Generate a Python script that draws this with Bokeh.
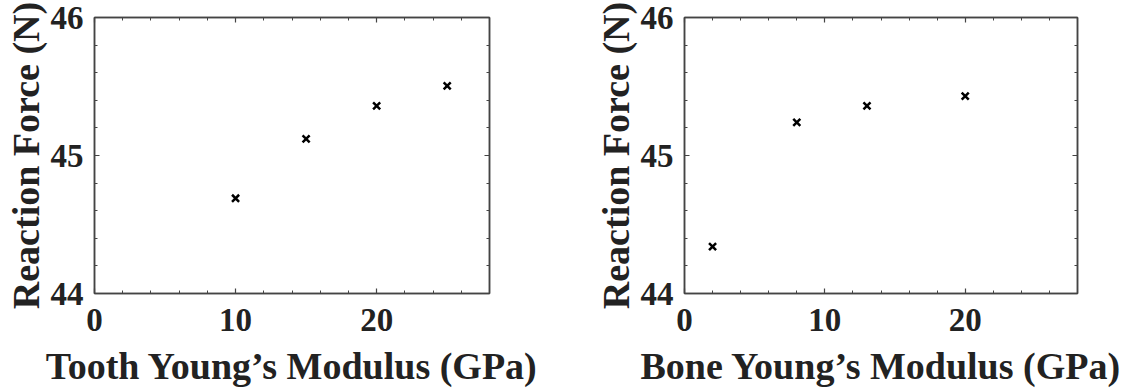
from bokeh.plotting import figure
from bokeh.layouts import row
from bokeh.models import FixedTicker, LinearAxis, Range1d, CustomJSTickFormatter
from bokeh.embed import file_html
from bokeh.resources import INLINE

# Data
tooth_modulus = [10, 15, 20, 25]
tooth_force = [44.69, 45.12, 45.36, 45.505]
bone_modulus = [2, 8, 13, 20]
bone_force = [44.34, 45.24, 45.36, 45.43]

x_major_ticks = [0, 10, 20]
x_minor_ticks = [0, 2, 4, 6, 8, 10, 12, 14, 16, 18, 20, 22, 24, 26, 28]
y_major_ticks = [44, 45, 46]
y_minor_ticks = [44.0, 44.2, 44.4, 44.6, 44.8, 45.0, 45.2, 45.4, 45.6, 45.8, 46.0]
x_limits = (0, 28)
y_limits = (44, 46)
y_title = "Reaction Force (N)"
x_titles = ["Tooth Young\u2019s Modulus (GPa)", "Bone Young\u2019s Modulus (GPa)"]

FONT = "Liberation Serif"
TXT = "#222222"
LINE = "#444444"


def style_axis(ax, show_labels):
    ax.axis_line_color = LINE
    ax.axis_line_width = 1.5
    ax.major_tick_line_color = LINE
    ax.minor_tick_line_color = LINE
    ax.major_tick_line_width = 1.2
    ax.minor_tick_line_width = 1.0
    ax.major_tick_in = 5
    ax.major_tick_out = 0
    ax.minor_tick_in = 3
    ax.minor_tick_out = 0
    if show_labels:
        ax.major_label_text_font = FONT
        ax.major_label_text_font_style = "bold"
        ax.major_label_text_font_size = "33px"
        ax.major_label_text_color = TXT
        ax.axis_label_text_font = FONT
        ax.axis_label_text_font_style = "bold"
        ax.axis_label_text_font_size = "38px"
        ax.axis_label_text_color = TXT
    else:
        ax.formatter = CustomJSTickFormatter(code="return '';")
        ax.major_label_text_font_size = "10px"
        ax.major_label_standoff = 0
        ax.axis_label = None


def make(xs, ys, xlabel, width, left, right):
    p = figure(width=width, height=390, output_backend="svg", toolbar_location=None,
               x_range=Range1d(*x_limits), y_range=Range1d(*y_limits),
               min_border_left=left, min_border_right=right,
               min_border_top=17, min_border_bottom=97)
    p.grid.visible = False
    p.outline_line_color = LINE
    p.outline_line_width = 1.5
    p.xaxis.ticker = FixedTicker(ticks=x_major_ticks, minor_ticks=x_minor_ticks)
    p.yaxis.ticker = FixedTicker(ticks=y_major_ticks, minor_ticks=y_minor_ticks)
    p.xaxis.axis_label = xlabel
    p.yaxis.axis_label = y_title
    for ax in p.xaxis:
        style_axis(ax, True)
        ax.major_label_standoff = 15
        ax.axis_label_standoff = 11
    for ax in p.yaxis:
        style_axis(ax, True)
        ax.major_label_standoff = 11
        ax.axis_label_standoff = 1
    top = LinearAxis(ticker=FixedTicker(ticks=x_major_ticks, minor_ticks=x_minor_ticks))
    style_axis(top, False)
    p.add_layout(top, "above")
    rt = LinearAxis(ticker=FixedTicker(ticks=y_major_ticks, minor_ticks=y_minor_ticks))
    style_axis(rt, False)
    p.add_layout(rt, "right")
    p.scatter(xs, ys, marker="x", size=10, line_width=2.5, line_color="black")
    return p


p1 = make(tooth_modulus, tooth_force, x_titles[0], 560, 94, 71)
p2 = make(bone_modulus, bone_force, x_titles[1], 565, 124, 48)
layout = row(p1, p2)
open("out.html", "w").write(file_html(layout, INLINE))
